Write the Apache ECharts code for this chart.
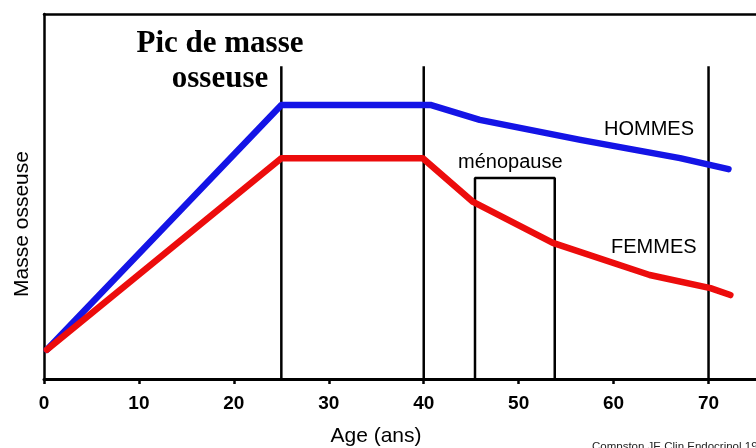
<!DOCTYPE html>
<html>
<head>
<meta charset="UTF-8">
<title>Masse osseuse</title>
</head>
<style>
body {
    padding:0;
    border:0;
    margin:0;
    background:#fff;
}
</style>
<script src="https://cdn.jsdelivr.net/npm/echarts@6/dist/echarts.min.js"></script>
<body>
   <div id="main" style="width: 756px;height:448px;"></div>
</body>
<script>
// donnees (age en ans, masse en unites arbitraires 0-100)
var ageHommes   = [0.3, 25, 40.7, 45.9, 56.5, 67.0, 72.1];
var masseHommes = [8, 75.1, 75.1, 71.0, 65.5, 60.5, 57.5];
var ageFemmes   = [0.3, 25, 39.9, 45.2, 53.6, 63.8, 70.2, 72.3];
var masseFemmes = [8, 60.5, 60.5, 48.5, 37.3, 28.5, 24.9, 23.0];
var reperes = [25, 40, 70];        // lignes verticales
var hautReperes = 85.7;
var menopause = [45.4, 53.8];      // cadre menopause
var hautMenopause = 55.1;
var ticksAge = [0, 10, 20, 30, 40, 50, 60, 70];

var myChart = echarts.init(document.getElementById('main'));

function pts(xs, ys) {
    var out = [];
    for (var i = 0; i < xs.length; i++) out.push([xs[i], ys[i]]);
    return out;
}

var series = [];
// lignes verticales noires
for (var i = 0; i < reperes.length; i++) {
    series.push({
        type: 'line', symbol: 'none', silent: true, z: 2,
        lineStyle: {color: '#000', width: 2.5},
        data: [[reperes[i], 0], [reperes[i], hautReperes]]
    });
}
// cadre menopause
series.push({
    type: 'line', symbol: 'none', silent: true, z: 2,
    lineStyle: {color: '#000', width: 2.5},
    data: [[menopause[0], 0], [menopause[0], hautMenopause], [menopause[1], hautMenopause], [menopause[1], 0]]
});
series.push({
    name: 'HOMMES', type: 'line', symbol: 'none', z: 3,
    lineStyle: {color: '#1414e6', width: 6.5, cap: 'round', join: 'round'},
    data: pts(ageHommes, masseHommes)
});
series.push({
    name: 'FEMMES', type: 'line', symbol: 'none', z: 4,
    lineStyle: {color: '#ec0c0c', width: 6.5, cap: 'round', join: 'round'},
    data: pts(ageFemmes, masseFemmes)
});

var option = {
    animation: false,
    grid: {left: 44, right: 0, top: 14, bottom: 69},
    xAxis: [{
        type: 'value', min: 0, max: 75, interval: 10,
        axisLine: {lineStyle: {color: '#000', width: 3}},
        axisTick: {length: 5, lineStyle: {color: '#000', width: 2.5}},
        axisLabel: {
            color: '#000', fontSize: 19, fontWeight: 'bold', fontFamily: 'Liberation Sans',
            margin: 15, showMaxLabel: false,
            formatter: function (v) { return ticksAge.indexOf(v) >= 0 ? String(v) : ''; }
        },
        splitLine: {show: false}
    }, {
        type: 'value', min: 0, max: 75, position: 'top',
        axisLine: {show: true, lineStyle: {color: '#000', width: 2.5}},
        axisTick: {show: false}, axisLabel: {show: false}, splitLine: {show: false}
    }],
    yAxis: {
        type: 'value', min: 0, max: 100,
        axisLine: {show: true, lineStyle: {color: '#000', width: 2.5}},
        axisTick: {show: false}, axisLabel: {show: false}, splitLine: {show: false}
    },
    graphic: [
        {type: 'text', x: 220, y: 44, style: {text: 'Pic de masse', font: 'bold 31px "Liberation Serif"', fill: '#000', textAlign: 'center', textVerticalAlign: 'middle'}},
        {type: 'text', x: 220, y: 79, style: {text: 'osseuse', font: 'bold 31px "Liberation Serif"', fill: '#000', textAlign: 'center', textVerticalAlign: 'middle'}},
        {type: 'text', x: 604, y: 129, style: {text: 'HOMMES', font: '20px "Liberation Sans"', fill: '#000', textVerticalAlign: 'middle'}},
        {type: 'text', x: 458, y: 162, style: {text: 'ménopause', font: '20px "Liberation Sans"', fill: '#000', textVerticalAlign: 'middle'}},
        {type: 'text', x: 611, y: 247, style: {text: 'FEMMES', font: '20px "Liberation Sans"', fill: '#000', textVerticalAlign: 'middle'}},
        {type: 'text', x: 376, y: 436, style: {text: 'Age (ans)', font: '21px "Liberation Sans"', fill: '#000', textAlign: 'center', textVerticalAlign: 'middle'}},
        {type: 'text', x: 22, y: 224, rotation: Math.PI / 2, style: {text: 'Masse osseuse', font: '21px "Liberation Sans"', fill: '#000', textAlign: 'center', textVerticalAlign: 'middle'}},
        {type: 'text', x: 592, y: 441, style: {text: 'Compston JE Clin Endocrinol 1990', font: '11.5px "Liberation Sans"', fill: '#222', textVerticalAlign: 'top'}}
    ],
    series: series
};
myChart.setOption(option);
</script>
</html>
